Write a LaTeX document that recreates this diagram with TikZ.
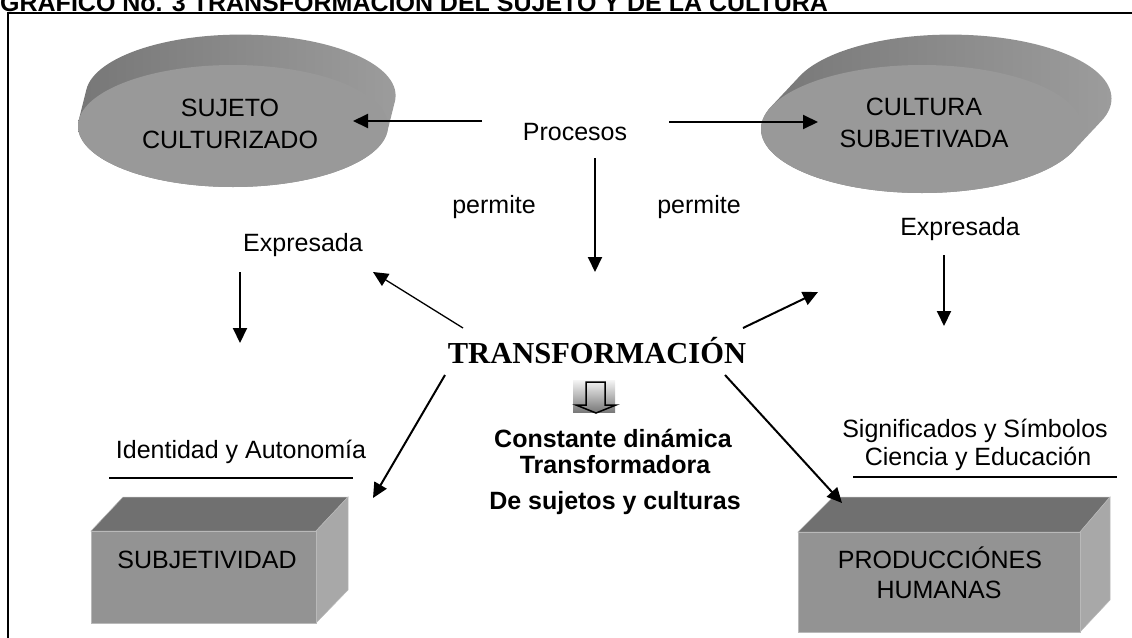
\documentclass[tikz,border=0pt]{standalone}
\usepackage{fontspec}
\setmainfont{Liberation Sans}
\newfontfamily\timesf{Liberation Serif}
\usetikzlibrary{arrows.meta}
\definecolor{diskface}{HTML}{999999}
\definecolor{diskside}{HTML}{7C7C7C}
\definecolor{disksideL}{HTML}{777777}
\definecolor{disksideR}{HTML}{9C9C9C}
\definecolor{boxtop}{HTML}{707070}
\definecolor{boxfront}{HTML}{939393}
\definecolor{boxright}{HTML}{A8A8A8}
\begin{document}
\begin{tikzpicture}[x=1pt,y=-1pt,
  txt/.style={font=\fontsize{25}{32}\selectfont, align=center, inner sep=0pt},
  btxt/.style={font=\bfseries\fontsize{25}{30}\selectfont, inner sep=0pt, anchor=base},
  lbl/.style={font=\fontsize{25}{30}\selectfont, inner sep=0pt, anchor=base},
  arr/.style={line width=2pt, -{Triangle[length=15pt,width=14pt]}},
  thinarr/.style={line width=1.3pt, -{Triangle[length=15pt,width=14pt]}},
  rulel/.style={line width=1.6pt},
  diskshade/.style={left color=disksideL, middle color=diskside, right color=disksideR},
  facefront/.style={fill=boxfront, draw=boxright!80!white, line width=0.5pt},
  facetop/.style={fill=boxtop, draw=boxright!80!white, line width=0.5pt},
  faceright/.style={fill=boxright, draw=boxright!80!white, line width=0.5pt}
]
\useasboundingbox (0,0) rectangle (1132,637);
\clip (0,0) rectangle (1132,637);

% frame and title
\draw[line width=2pt] (8,13) rectangle (1160,680);
\node[anchor=base west, inner sep=0pt, font=\bfseries\fontsize{25}{30}\selectfont] (title) at (0,11) {GRÁFICO No. 3 TRANSFORMACIÓN DEL SUJETO Y DE LA CULTURA};

% left disk
\shade[diskshade]
  \foreach \t in {0,0.05,...,1.0} { ({233+8*\t},{126-32*\t}) ellipse [x radius=155, y radius=61] };
\fill[diskface] (233,126) ellipse [x radius=155, y radius=61];
% right disk
\shade[diskshade]
  \foreach \t in {0,0.05,...,1.0} { ({922+30*\t},{129-32*\t}) ellipse [x radius=161, y radius=64] };
\fill[diskface] (922,129) ellipse [x radius=161, y radius=64];

\node[txt] (sujeto) at (230,124) {SUJETO\\CULTURIZADO};
\node[txt] (cultura) at (924,123) {CULTURA\\SUBJETIVADA};

% boxes
\fill[facetop] (91,531) -- (123,497) -- (348,497) -- (316,531) -- cycle;
\fill[faceright] (316,531) -- (348,497) -- (348,590) -- (316,623) -- cycle;
\fill[facefront] (91,531) rectangle (316,623);
\fill[facetop] (798,532) -- (833,497) -- (1110,497) -- (1080,532) -- cycle;
\fill[faceright] (1080,532) -- (1110,497) -- (1110,600) -- (1080,632) -- cycle;
\fill[facefront] (798,532) rectangle (1080,632);

\node[lbl] (subj) at (207,568) {SUBJETIVIDAD};
\node[lbl] (prod1) at (940,568) {PRODUCCIÓNES};
\node[lbl] (prod2) at (939,598) {HUMANAS};

% labels
\node[lbl] (procesos) at (575,140) {Procesos};
\node[lbl] (permiteL) at (494,213) {permite};
\node[lbl] (permiteR) at (699,213) {permite};
\node[lbl] (expL) at (303,251) {Expresada};
\node[lbl] (expR) at (960,235) {Expresada};
\node[anchor=base, inner sep=0pt, font=\timesf\bfseries\fontsize{30.5}{34}\selectfont] (transf) at (597,363) {TRANSFORMACIÓN};
\node[btxt] (const1) at (613,447) {Constante dinámica};
\node[btxt] (const2) at (615,473) {Transformadora};
\node[btxt] (const3) at (615,509) {De sujetos y culturas};
\node[lbl] (ident) at (241,458) {Identidad y Autonomía};
\node[lbl] (signif1) at (975,437) {Significados y Símbolos};
\node[lbl] (signif2) at (978,465) {Ciencia y Educación};

% rules under labels
\draw[rulel] (109,478) -- (353,478);
\draw[rulel] (853,477) -- (1117,477);

% icon
\node[minimum width=42pt, minimum height=32pt, inner sep=0pt, top color=gray!8, bottom color=gray!95!black] (icon) at (594,396) {};
\draw[line width=1.5pt, line join=miter]
  ([xshift=-8pt,yshift=14pt]icon.center) -- ([xshift=-8pt,yshift=-9pt]icon.center)
  -- ([xshift=-18pt,yshift=-9pt]icon.center) -- ([xshift=2pt,yshift=-17pt]icon.center)
  -- ([xshift=22pt,yshift=-9pt]icon.center) -- ([xshift=11pt,yshift=-9pt]icon.center)
  -- ([xshift=11pt,yshift=14pt]icon.center) -- cycle;

% arrow end points
\coordinate (p1s) at (482,121); \coordinate (p1e) at (353,121);
\coordinate (p2s) at (669,122); \coordinate (p2e) at (818,122);
\coordinate (p3s) at (595,158); \coordinate (p3e) at (595,272);
\coordinate (p4s) at (240,272); \coordinate (p4e) at (240,343);
\coordinate (p5s) at (944,255); \coordinate (p5e) at (944,326);
\coordinate (p6s) at (463,328); \coordinate (p6e) at (373,272);
\coordinate (p7s) at (743,328); \coordinate (p7e) at (818,292);
\coordinate (p8s) at (445,375); \coordinate (p8e) at (373,498);
\coordinate (p9s) at (725,375); \coordinate (p9e) at (842,503);

\draw[arr] (p1s) -- (p1e);
\draw[arr] (p2s) -- (p2e);
\draw[arr] (p3s) -- (p3e);
\draw[arr] (p4s) -- (p4e);
\draw[arr] (p5s) -- (p5e);
\draw[thinarr] (p6s) -- (p6e);
\draw[arr] (p7s) -- (p7e);
\draw[arr] (p8s) -- (p8e);
\draw[arr] (p9s) -- (p9e);
\end{tikzpicture}
\end{document}
